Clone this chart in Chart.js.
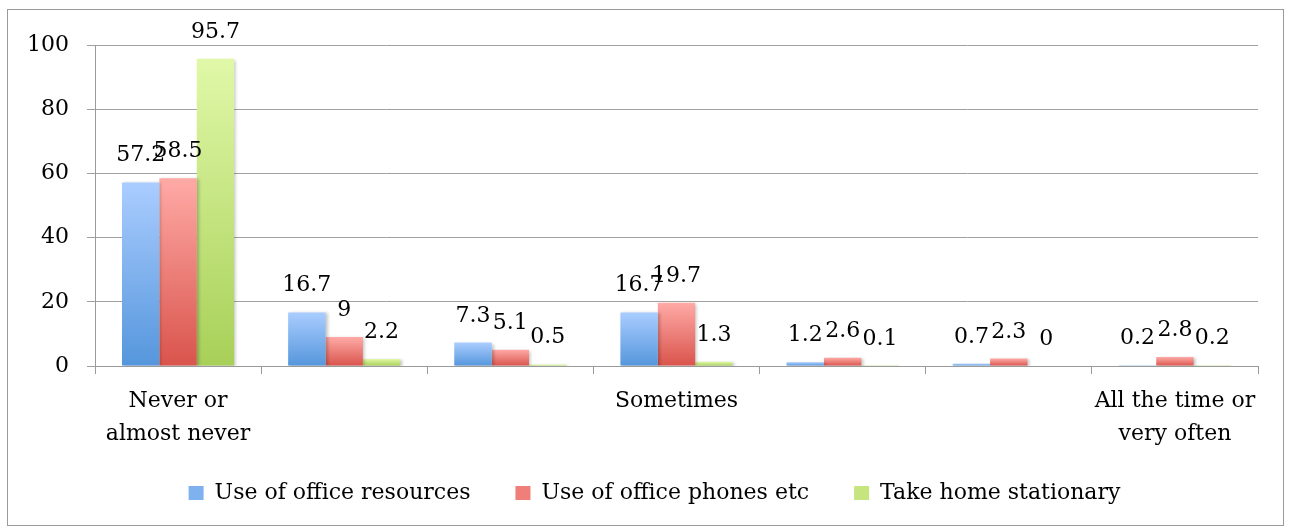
<!DOCTYPE html>
<html>
<head>
<meta charset="utf-8">
<script src="https://cdn.jsdelivr.net/npm/chart.js@4.4.1/dist/chart.umd.min.js"></script>
<style>
html,body{margin:0;padding:0;background:#fff;}
#wrap{position:relative;width:1290px;height:532px;}
</style>
</head>
<body>
<div id="wrap"><canvas id="c" width="1290" height="532"></canvas></div>
<script>
const categories = [["Never or", "almost never"], "", "", "Sometimes", "", "", ["All the time or", "very often"]];
const seriesNames = ["Use of office resources", "Use of office phones etc", "Take home stationary"];
const officeResources = [57.2, 16.7, 7.3, 16.7, 1.2, 0.7, 0.2];
const officePhones = [58.5, 9, 5.1, 19.7, 2.6, 2.3, 2.8];
const takeHomeStationary = [95.7, 2.2, 0.5, 1.3, 0.1, 0, 0.2];
const yTicks = [0, 20, 40, 60, 80, 100];

const FONT = "'DejaVu Serif', serif";
const palettes = [
  {top: '#aacdff', bottom: '#5596dc', mid: '#7fb1ee'},
  {top: '#ffaaa6', bottom: '#d9544c', mid: '#ef7f78'},
  {top: '#e0f8a8', bottom: '#a8d058', mid: '#c6e57f'}
];

function gradientFor(idx) {
  return function(context) {
    const chart = context.chart;
    const ys = chart.scales && chart.scales.y;
    if (!chart.chartArea || !ys || context.type !== 'data') return palettes[idx].mid;
    const v = context.raw;
    const top = ys.getPixelForValue(v);
    const base = ys.getPixelForValue(0);
    if (!isFinite(top) || Math.abs(base - top) < 1) return palettes[idx].bottom;
    const g = chart.ctx.createLinearGradient(0, top, 0, base);
    g.addColorStop(0, palettes[idx].top);
    g.addColorStop(1, palettes[idx].bottom);
    return g;
  };
}

const borderPlugin = {
  id: 'outerBorder',
  beforeDraw(chart) {
    const ctx = chart.ctx;
    ctx.save();
    ctx.fillStyle = '#fff';
    ctx.fillRect(0, 0, chart.width, chart.height);
    ctx.strokeStyle = '#9a9a9a';
    ctx.lineWidth = 1;
    ctx.strokeRect(7.5, 9.5, 1276, 516);
    ctx.restore();
  }
};

const legendShift = {
  id: 'legendShift',
  afterLayout(chart) {
    const lg = chart.legend;
    if (lg) {
      lg.left += 22;
      lg.right += 22;
      lg.top -= 9;
      lg.bottom -= 9;
    }
  }
};

const shadowPlugin = {
  id: 'barShadow',
  beforeDatasetsDraw(chart) {
    const ctx = chart.ctx;
    ctx.save();
    ctx.shadowColor = 'rgba(0,0,0,0.22)';
    ctx.shadowBlur = 3;
    ctx.shadowOffsetX = 2;
    ctx.shadowOffsetY = 1;
  },
  afterDatasetsDraw(chart) {
    chart.ctx.restore();
  }
};

const labelPlugin = {
  id: 'valueLabels',
  afterDatasetsDraw(chart) {
    const ctx = chart.ctx;
    ctx.save();
    ctx.font = '22px ' + FONT;
    ctx.fillStyle = '#000';
    ctx.textAlign = 'center';
    ctx.textBaseline = 'alphabetic';
    chart.data.datasets.forEach((ds, di) => {
      const meta = chart.getDatasetMeta(di);
      meta.data.forEach((el, i) => {
        const v = ds.data[i];
        ctx.fillText(String(v), el.x, el.y - 21);
      });
    });
    ctx.restore();
  }
};

const datasets = [officeResources, officePhones, takeHomeStationary].map((arr, i) => ({
  label: seriesNames[i],
  data: arr,
  backgroundColor: gradientFor(i),
  borderWidth: 0,
  categoryPercentage: 0.675,
  barPercentage: 1.0
}));

new Chart(document.getElementById('c'), {
  type: 'bar',
  data: { labels: categories, datasets },
  options: {
    responsive: false,
    animation: false,
    devicePixelRatio: 1,
    layout: { padding: { left: 7, right: 32, top: 45, bottom: 9 } },
    plugins: {
      tooltip: { enabled: false },
      legend: {
        position: 'bottom',
        labels: {
          font: { family: FONT, size: 22 },
          color: '#000',
          boxWidth: 15,
          boxHeight: 14,
          padding: 45,
          generateLabels(chart) {
            return chart.data.datasets.map((ds, i) => ({
              text: ds.label,
              fillStyle: palettes[i].mid,
              strokeStyle: palettes[i].mid,
              lineWidth: 0,
              hidden: false,
              datasetIndex: i,
              fontColor: '#000'
            }));
          }
        }
      }
    },
    scales: {
      x: {
        afterFit(s) { s.height = 80; },
        grid: { offset: true, drawOnChartArea: false, color: '#9a9a9a', tickLength: 8, lineWidth: 1 },
        border: { display: true, color: '#9a9a9a', width: 1 },
        ticks: {
          font: { family: FONT, size: 22, lineHeight: 1.5 },
          color: '#000',
          maxRotation: 0,
          autoSkip: false,
          padding: 11
        }
      },
      y: {
        min: 0, max: 100,
        afterFit(s) { s.width = 88; },
        afterBuildTicks(s) { s.ticks = yTicks.map(v => ({ value: v })); },
        grid: { color: '#a0a0a0', tickLength: 8, lineWidth: 1 },
        border: { display: true, color: '#9a9a9a', width: 1 },
        ticks: {
          font: { family: FONT, size: 22 },
          color: '#000',
          padding: 18
        }
      }
    }
  },
  plugins: [borderPlugin, legendShift, shadowPlugin, labelPlugin]
});
</script>
</body>
</html>
